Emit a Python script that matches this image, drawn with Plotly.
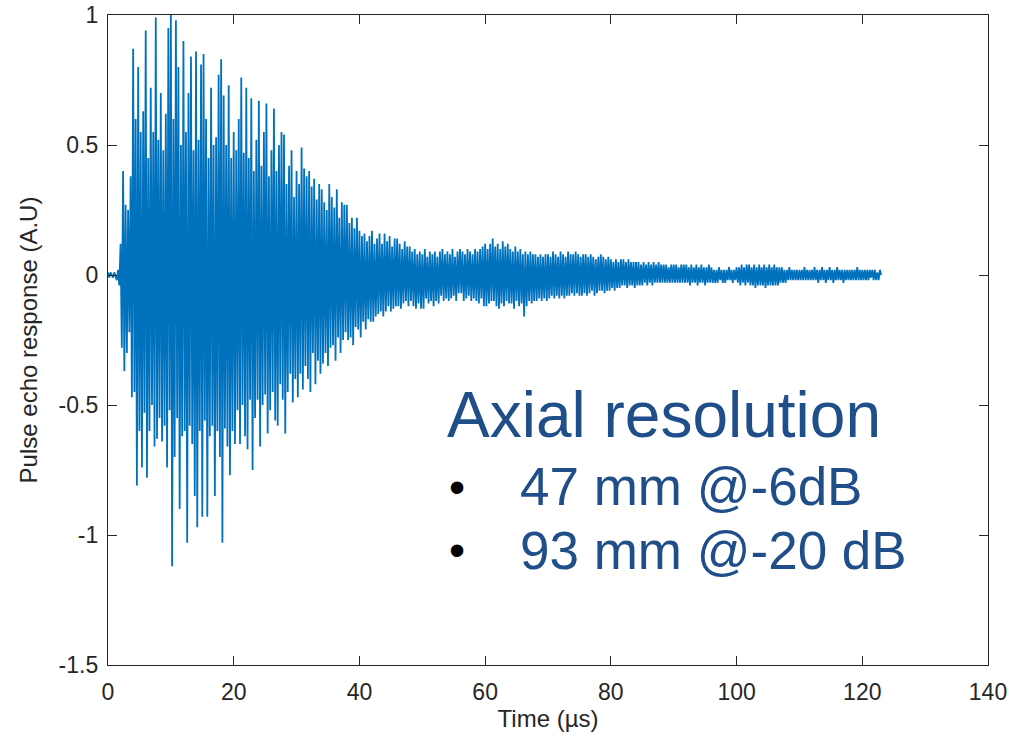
import plotly.graph_objects as go

# Sampling of the pulse-echo trace (µs between consecutive samples)
time_step_us = 0.2

# Pulse echo response, in hundredths of A.U., 10 µs per list
amp_00_10 = [1, -1, 1, 0, -1, 1, -1, -2, 2, -4,
             12, -28, 40, -37, 27, -30, 25, -22, 38, -47,
             87, -45, 60, -81, 80, -60, 55, -74, 63, -53,
             94, -78, 45, -60, 72, -50, 55, -66, 99, -63,
             52, -55, 70, -64, 48, -58, 62, -74, 95, -52]
amp_10_20 = [100, -112, 60, -70, 98, -55, 80, -90, 50, -62,
             90, -60, 55, -103, 70, -58, 84, -65, 48, -85,
             86, -97, 52, -60, 81, -93, 85, -56, 60, -93,
             45, -62, 72, -58, 50, -85, 53, -60, 77, -70,
             83, -103, 69, -59, 50, -66, 73, -77, 45, -60]
amp_20_30 = [55, -65, 48, -52, 60, -65, 76, -50, 47, -62,
             72, -67, 45, -48, 68, -75, 40, -55, 52, -48,
             67, -66, 42, -50, 55, -46, 66, -61, 38, -52,
             48, -45, 64, -56, 40, -58, 50, -42, 55, -48,
             54, -61, 35, -45, 42, -38, 48, -49, 30, -40]
amp_30_40 = [40, -47, 35, -38, 49, -44, 41, -35, 38, -40,
             40, -45, 34, -30, 37, -42, 29, -33, 35, -38,
             33, -34, 28, -30, 25, -35, 35, -28, 30, -27,
             26, -33, 33, -24, 22, -30, 28, -25, 27, -22,
             27, -25, 20, -24, 22, -27, 18, -20, 22, -21]
amp_40_50 = [17, -24, 15, -18, 16, -21, 13, -17, 15, -18,
             17, -18, 12, -16, 14, -15, 16, -14, 12, -16,
             16, -14, 13, -12, 15, -14, 11, -13, 14, -12,
             14, -12, 12, -13, 10, -11, 13, -10, 11, -12,
             11, -10, 9, -12, 10, -13, 8, -11, 9, -13]
amp_50_60 = [8, -13, 10, -9, 7, -11, 9, -10, 8, -12,
             9, -10, 7, -11, 9, -8, 10, -10, 8, -9,
             9, -10, 8, -9, 10, -8, 7, -10, 9, -7,
             10, -7, 9, -10, 8, -9, 10, -8, 9, -10,
             8, -9, 10, -10, 9, -11, 10, -9, 11, -12]
amp_60_70 = [12, -12, 10, -11, 12, -10, 14, -10, 11, -12,
             12, -13, 10, -11, 13, -12, 11, -10, 12, -11,
             10, -11, 9, -13, 11, -10, 9, -12, 10, -11,
             8, -16, 9, -12, 8, -10, 9, -11, 8, -10,
             8, -10, 7, -9, 8, -10, 7, -9, 8, -10]
amp_70_80 = [8, -9, 7, -8, 9, -9, 8, -8, 7, -9,
             9, -8, 8, -9, 7, -8, 9, -8, 8, -7,
             8, -8, 9, -7, 8, -8, 7, -8, 8, -7,
             8, -8, 7, -7, 8, -6, 7, -8, 6, -7,
             7, -6, 8, -6, 7, -7, 6, -6, 7, -6]
amp_80_90 = [6, -5, 5, -6, 6, -5, 5, -5, 6, -4,
             6, -4, 5, -5, 6, -4, 5, -4, 5, -5,
             5, -4, 5, -4, 4, -4, 5, -3, 4, -4,
             5, -3, 4, -4, 5, -3, 4, -3, 5, -3,
             4, -3, 4, -3, 4, -3, 3, -3, 4, -3]
amp_90_100 = [4, -3, 4, -3, 3, -3, 4, -3, 4, -3,
              4, -3, 3, -4, 4, -3, 3, -3, 4, -4,
              3, -3, 4, -3, 3, -4, 3, -3, 4, -3,
              3, -3, 2, -3, 2, -3, 3, -2, 2, -3,
              2, -3, 2, -2, 3, -2, 2, -3, 2, -2]
amp_100_110 = [3, -3, 3, -4, 4, -3, 3, -4, 4, -3,
               4, -4, 3, -4, 4, -5, 3, -4, 4, -4,
               3, -4, 4, -5, 3, -4, 4, -4, 3, -4,
               4, -4, 3, -4, 3, -3, 3, -3, 2, -3,
               2, -2, 3, -2, 2, -2, 2, -2, 2, -2]
amp_110_120 = [2, -2, 2, -2, 3, -2, 2, -2, 2, -2,
               2, -2, 3, -2, 2, -3, 2, -2, 3, -2,
               2, -3, 2, -2, 3, -2, 2, -3, 2, -2,
               3, -2, 2, -2, 2, -3, 2, -2, 2, -2,
               2, -2, 2, -2, 2, -2, 3, -2, 2, -2]
amp_120_123 = [2, -2, 2, -2, 2, -2, 2, -1, 2, -2, 2, -2, 1, -2, 2, 0]

segments = [amp_00_10, amp_10_20, amp_20_30, amp_30_40, amp_40_50, amp_50_60,
            amp_60_70, amp_70_80, amp_80_90, amp_90_100, amp_100_110,
            amp_110_120, amp_120_123]
amplitude = [v / 100.0 for seg in segments for v in seg]
time_us = [i * time_step_us for i in range(len(amplitude))]

x_ticks = [0, 20, 40, 60, 80, 100, 120, 140]
y_ticks = [-1.5, -1, -0.5, 0, 0.5, 1]
y_tick_text = ["-1.5", "-1", "-0.5", "0", "0.5", "1"]

FONT = "Liberation Sans, Arial, Helvetica, sans-serif"
AX = "#262626"
BLUE_TXT = "#1F4E89"

fig = go.Figure()
fig.add_trace(go.Scatter(x=time_us, y=amplitude, mode="lines",
                         line=dict(color="#0072BD", width=1.8),
                         hoverinfo="skip", showlegend=False))

axis_common = dict(showgrid=False, zeroline=False, showline=True, linecolor=AX,
                   linewidth=1.3, mirror="allticks", ticks="inside", ticklen=9,
                   tickwidth=1, tickcolor=AX,
                   tickfont=dict(family=FONT, size=23, color=AX))

fig.update_xaxes(range=[0, 140], tickvals=x_ticks, ticktext=[str(v) for v in x_ticks],
                 ticklabelstandoff=6,
                 title=dict(text="Time (µs)", font=dict(family=FONT, size=24, color=AX),
                            standoff=6),
                 **axis_common)
fig.update_yaxes(range=[-1.5, 1], tickvals=y_ticks, ticktext=y_tick_text,
                 ticklabelstandoff=4,
                 title=dict(text="Pulse echo response (A.U)",
                            font=dict(family=FONT, size=24, color=AX), standoff=14),
                 **axis_common)

fig.add_annotation(x=53.6, y=-0.54, xref="x", yref="y", text="Axial resolution",
                   showarrow=False, xanchor="left", yanchor="middle",
                   font=dict(family=FONT, size=64, color=BLUE_TXT))
bullet_lines = ["47 mm @-6dB", "93 mm @-20 dB"]
bullet_y = [-0.815, -1.058]
for txt, yv in zip(bullet_lines, bullet_y):
    fig.add_annotation(x=55.5, y=yv, xref="x", yref="y", text="•", showarrow=False,
                       xanchor="center", yanchor="middle",
                       font=dict(family=FONT, size=46, color="black"))
    fig.add_annotation(x=65.3, y=yv, xref="x", yref="y", text=txt, showarrow=False,
                       xanchor="left", yanchor="middle",
                       font=dict(family=FONT, size=53, color=BLUE_TXT))

fig.update_layout(width=1009, height=738, paper_bgcolor="white", plot_bgcolor="white",
                  margin=dict(l=108, r=21, t=15, b=73, autoexpand=False),
                  showlegend=False)

fig.write_html("out.html", config={"displayModeBar": False})
